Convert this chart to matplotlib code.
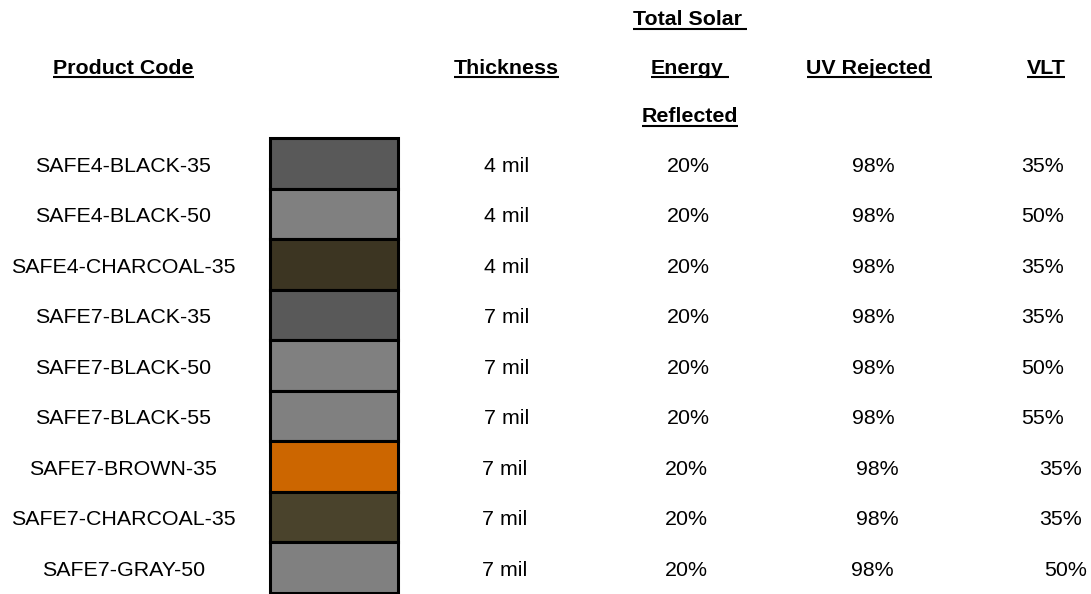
import matplotlib
matplotlib.use("Agg")
import matplotlib.pyplot as plt
from matplotlib.patches import Rectangle

plt.rcParams['font.family'] = ['Liberation Sans', 'DejaVu Sans']

# table contents
headers = ["Product Code", "Thickness", ["Total Solar ", "Energy ", "Reflected"], "UV Rejected", "VLT"]
codes = ["SAFE4-BLACK-35", "SAFE4-BLACK-50", "SAFE4-CHARCOAL-35", "SAFE7-BLACK-35",
         "SAFE7-BLACK-50", "SAFE7-BLACK-55", "SAFE7-BROWN-35", "SAFE7-CHARCOAL-35",
         "SAFE7-GRAY-50"]
swatches = ["#595959", "#808080", "#3c3522", "#595959", "#808080", "#808080",
            "#cc6600", "#4a432c", "#808080"]
thickness = ["4 mil", "4 mil", "4 mil", "7 mil", "7 mil", "7 mil", "7 mil", "7 mil", "7 mil"]
tser = ["20%"] * 9
uv = ["98%"] * 9
vlt = ["35%", "50%", "35%", "35%", "50%", "55%", "35%", "35%", "50%"]

# layout (pixels)
W, H = 1091, 594
col_x = [123.5, 506.5, 690, 869, 1046]
body_x = [123.5, 506.5, 688.5, 873, 1043]
# the last rows drift a bit to the right in the original
nudge = {6: [0, -1.5, -2, 4, 18], 7: [0, -1.5, -2, 4, 18], 8: [0, -1.5, -2, -1, 23]}
sw_x0, sw_x1 = 269.5, 397.5
row_top, row_h = 138, 50.5
head_base = [25, 73.5, 122]
body_fs, head_fs = 15.4, 15.4

fig = plt.figure(figsize=(W / 100, H / 100), dpi=100)
ax = fig.add_axes([0, 0, 1, 1])
ax.set_xlim(0, W)
ax.set_ylim(H, 0)
ax.axis('off')

fig.canvas.draw()
renderer = fig.canvas.get_renderer()
inv = ax.transData.inverted()


def text_width(s, **kw):
    t = ax.text(0, 0, s, **kw)
    bb = t.get_window_extent(renderer)
    t.remove()
    (x0, _), (x1, _) = inv.transform([[bb.x0, bb.y0], [bb.x1, bb.y1]])
    return x1 - x0


def header(label, xc, yb):
    stripped = label.rstrip()
    w = text_width(stripped, fontsize=head_fs, fontweight='bold')
    if stripped != label:
        w_full = w + head_fs * 100 / 72 * 0.278
    else:
        w_full = w
    x0 = xc - w_full / 2
    ax.text(x0, yb, stripped, fontsize=head_fs, fontweight='bold',
            ha='left', va='baseline', color='black')
    ax.plot([x0, x0 + w_full], [yb + 3.5, yb + 3.5], color='black', lw=1.5,
            solid_capstyle='butt')


for i, h in enumerate(headers):
    if isinstance(h, list):
        for k, part in enumerate(h):
            header(part, col_x[i], head_base[k])
    else:
        header(h, col_x[i], head_base[1])

columns = [codes, thickness, tser, uv, vlt]
for r in range(len(codes)):
    top = row_top + r * row_h
    ax.add_patch(Rectangle((sw_x0, top), sw_x1 - sw_x0, row_h,
                           facecolor=swatches[r], edgecolor='black', lw=2.2))
    yb = top + row_h / 2 + 8.5
    for c, col in enumerate(columns):
        dx = nudge.get(r, [0] * 5)[c]
        ax.text(body_x[c] + dx, yb, col[r], fontsize=body_fs, ha='center',
                va='baseline', color='black')

fig.savefig("out.png", dpi=100)
